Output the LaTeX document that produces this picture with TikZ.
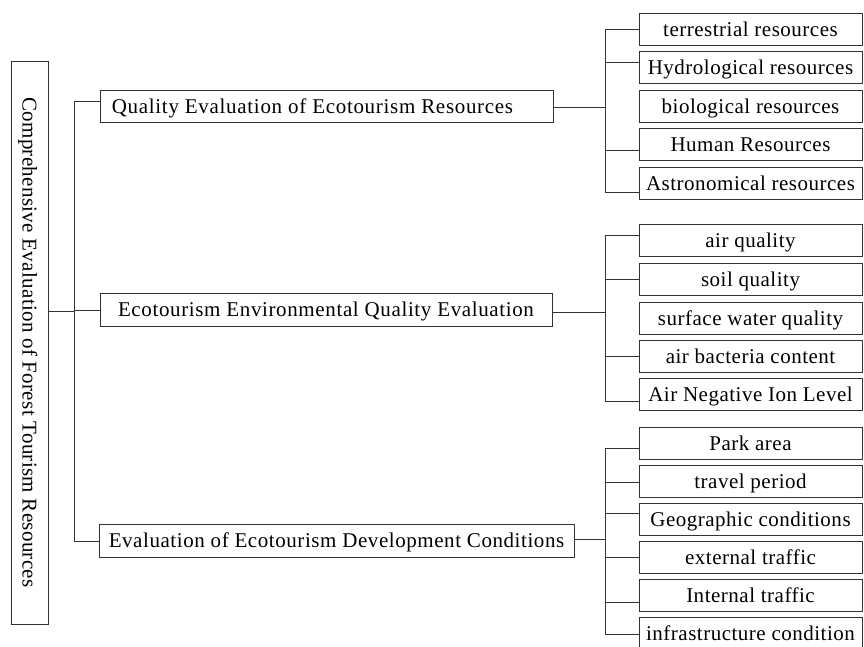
\documentclass[tikz,border=0pt]{standalone}
\usepackage{fontspec}
\setmainfont{Liberation Serif}
\usetikzlibrary{calc}
\begin{document}
\begin{tikzpicture}[x=1pt,y=-1pt,
  box/.style={draw=black!80, line width=0.9pt, rectangle, inner sep=0pt,
    text height=14pt, text depth=0pt,
    font=\fontsize{21}{24}\selectfont\addfontfeature{LetterSpace=3}},
  rbox/.style={box, minimum width=223pt, minimum height=32pt,
    font=\fontsize{21}{24}\selectfont\addfontfeature{LetterSpace=2.4}},
  boxtext/.style={inner sep=0pt, text height=14pt, text depth=0pt,
    font=\fontsize{21}{24}\selectfont\addfontfeature{LetterSpace=3.3}},
  link/.style={draw=black!80, line width=0.9pt}]
\useasboundingbox (0,0) rectangle (864,646);

% root
\node[box, minimum width=37pt, minimum height=563pt] (root) at (29.5,342.5) {};
\node[boxtext, rotate=-90, font=\fontsize{21}{24}\selectfont\addfontfeature{LetterSpace=1.6}] (roottext) at (root.center) {Comprehensive Evaluation of Forest Tourism Resources};

% middle level
\node[box, minimum width=453pt, minimum height=32pt] (m1) at (326.5,106) {};
\node[boxtext] (m1text) at ($(m1.center)+(-14,0)$) {Quality Evaluation of Ecotourism Resources};
\node[box, minimum width=452pt, minimum height=33pt] (m2) at (326,309.5) {Ecotourism Environmental Quality Evaluation};
\node[box, minimum width=475pt, minimum height=33pt, font=\fontsize{21}{24}\selectfont\addfontfeature{LetterSpace=2.7}] (m3) at (336.5,540.5) {Evaluation of Ecotourism Development Conditions};

% right level, group 1
\node[rbox] (a1) at (750.5,29) {terrestrial resources};
\node[rbox] (a2) at (750.5,67.5) {Hydrological resources};
\node[rbox] (a3) at (750.5,106) {biological resources};
\node[rbox] (a4) at (750.5,144.5) {Human Resources};
\node[rbox] (a5) at (750.5,183.5) {Astronomical resources};
% group 2
\node[rbox] (b1) at (750.5,240.5) {air quality};
\node[rbox] (b2) at (750.5,279.5) {soil quality};
\node[rbox] (b3) at (750.5,318) {surface water quality};
\node[rbox] (b4) at (750.5,356.5) {air bacteria content};
\node[rbox] (b5) at (750.5,394.5) {Air Negative Ion Level};
% group 3
\node[rbox] (c1) at (750.5,443) {Park area};
\node[rbox] (c2) at (750.5,481) {travel period};
\node[rbox] (c3) at (750.5,519) {Geographic conditions};
\node[rbox] (c4) at (750.5,557) {external traffic};
\node[rbox] (c5) at (750.5,595) {Internal traffic};
\node[rbox] (c6) at (750.5,633) {infrastructure condition};

% left trunk
\coordinate (lt) at (74,0);
\draw[link] ($(root.east)+(0,-31.5)$) -- ($(root.east -| lt)+(0,-31.5)$);
\draw[link] ($(m1.west)+(0,-5)$) -| ($(m3.west -| lt)+(0,0.5)$) -- ($(m3.west)+(0,0.5)$);
\draw[link] ($(m2.west)+(0,0.5)$) -- ($(m2.west -| lt)+(0,0.5)$);

% right trunks
\coordinate (rt) at (605,0);
\draw[link] ($(m1.east)+(0,1)$) -- ($(m1.east -| rt)+(0,1)$);
\draw[link] ($(m2.east)+(0,2.5)$) -- ($(m2.east -| rt)+(0,2.5)$);
\draw[link] ($(m3.east)+(0,-1.5)$) -- ($(m3.east -| rt)+(0,-1.5)$);

% group 1 branches
\draw[link] (a1.west) -| ($(a5.west -| rt)+(0,8.5)$) -- ($(a5.west)+(0,8.5)$);
\draw[link] ($(a2.west)+(0,-5.5)$) -- ($(a2.west -| rt)+(0,-5.5)$);
\draw[link] ($(a4.west)+(0,5.5)$) -- ($(a4.west -| rt)+(0,5.5)$);

% group 2 branches
\draw[link] ($(b1.west)+(0,-5.5)$) -| ($(b5.west -| rt)+(0,6.5)$) -- ($(b5.west)+(0,6.5)$);
\draw[link] (b2.west) -- (b2.west -| rt);
\draw[link] (b4.west) -- (b4.west -| rt);

% group 3 branches
\draw[link] ($(c1.west)+(0,5)$) -| ($(c6.west -| rt)+(0,1)$) -- ($(c6.west)+(0,1)$);
\draw[link] ($(c2.west)+(0,1)$) -- ($(c2.west -| rt)+(0,1)$);
\draw[link] ($(c3.west)+(0,-6)$) -- ($(c3.west -| rt)+(0,-6)$);
\draw[link] (c4.west) -- (c4.west -| rt);
\draw[link] ($(c5.west)+(0,7)$) -- ($(c5.west -| rt)+(0,7)$);
\end{tikzpicture}
\end{document}
